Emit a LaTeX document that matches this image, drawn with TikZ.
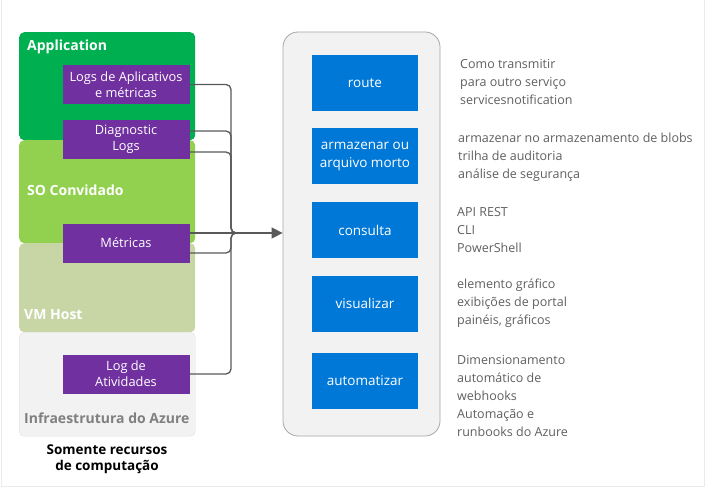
\documentclass[tikz,border=0pt]{standalone}
\usepackage{fontspec}
\setmainfont{Open Sans}
\usetikzlibrary{positioning,arrows.meta}
\definecolor{appgreen}{HTML}{00B050}
\definecolor{osgreen}{HTML}{92D050}
\definecolor{hostgreen}{HTML}{C8D6A5}
\definecolor{infragray}{HTML}{F2F2F2}
\definecolor{logpurple}{HTML}{7030A0}
\definecolor{actblue}{HTML}{0078D7}
\definecolor{linegray}{HTML}{595959}
\definecolor{textgray}{HTML}{5F5F5F}
\tikzset{
  layer/.style={rounded corners=5pt,minimum width=176pt,anchor=north west,inner sep=0pt},
  layertitle/.style={anchor=west,inner sep=0pt,text=white,font=\fontsize{14}{16}\selectfont\bfseries},
  logbox/.style={fill=logpurple,text=white,minimum width=127pt,minimum height=39pt,align=center,inner sep=0pt,font=\fontsize{12.8}{16}\selectfont},
  actbox/.style={fill=actblue,text=white,minimum width=106pt,minimum height=56pt,align=center,inner sep=0pt,font=\fontsize{13.5}{18}\selectfont},
  desc/.style={anchor=west,align=left,inner sep=0pt,text=textgray,font=\fontsize{12.5}{18}\selectfont},
  link/.style={draw=linegray,line width=1.3pt,rounded corners=5pt}
}
\begin{document}
\begin{tikzpicture}[x=1pt,y=-1pt]
\useasboundingbox (0,0) rectangle (706,489);
\draw[draw=black!8] (1,0) -- (1,486) -- (704,486) -- (704,0);
% layers on the left
\node[layer,fill=appgreen,minimum height=108pt] (app) at (19,32) {};
\node[layer,fill=osgreen,minimum height=103pt] (os) at (19,140) {};
\node[layer,fill=hostgreen,minimum height=89pt] (host) at (19,243) {};
\node[layer,fill=infragray,draw=black!12,minimum height=104pt] (infra) at (19,332) {};
\node[layertitle] (apptitle) at (27,47) {Application};
\node[layertitle] (ostitle) at (27,190) {SO Convidado};
\node[layertitle] (hosttitle) at (24,315) {VM Host};
\node[layertitle,text=black!50] (infratitle) at (24,418) {Infraestrutura do Azure};
\node[align=center,inner sep=0pt,font=\fontsize{13.5}{16}\selectfont\bfseries] (caption) at (107,459) {Somente recursos\\de computação};
% log sources
\node[logbox] (applogs) at (126,84.5) {Logs de Aplicativos\\e métricas};
\node[logbox] (diaglogs) at (126,139.5) {Diagnostic\\Logs};
\node[logbox] (metrics) at (126,243) {Métricas};
\node[logbox] (actlogs) at (126,374) {Log de\\Atividades};
% actions
\node[rounded corners=15pt,fill=infragray,draw=black!35,line width=0.8pt,minimum width=157pt,minimum height=404pt] (store) at (361.5,234) {};
\node[actbox] (route) at (365,83) {route};
\node[actbox] (archive) at (365,156.5) {armazenar ou\\arquivo morto};
\node[actbox] (query) at (365,230) {consulta};
\node[actbox] (visual) at (365,303.5) {visualizar};
\node[actbox] (automate) at (365,380.5) {automatizar};
% descriptions
\node[desc] (routetext) at (460,82) {Como transmitir\\para outro serviço\\servicesnotification};
\node[desc] (archivetext) at (458,157) {armazenar no armazenamento de blobs\\trilha de auditoria\\análise de segurança};
\node[desc] (querytext) at (457,230) {API REST\\CLI\\PowerShell};
\node[desc] (visualtext) at (457,303) {elemento gráfico\\exibições de portal\\painéis, gráficos};
\node[desc] (automatetext) at (457,396) {Dimensionamento\\automático de\\webhooks\\Automação e\\runbooks do Azure};
% connectors
\coordinate (hub) at (231,233);
\coordinate (hubout) at (246,233);
\draw[link] (applogs.east) -| (hub) -- (hubout);
\draw[link] ([yshift=8.5pt]diaglogs.east) -| (hub) -- (hubout);
\draw[link] ([yshift=-12.5pt]diaglogs.east) -| (hub) -- (hubout);
\draw[link] ([yshift=10pt]metrics.east) -- (hub);
\draw[link] ([yshift=-10pt]metrics.east) -| (hub) -- (hubout);
\draw[link] (actlogs.east) -| (hub) -- (hubout);
\draw[link,-{Triangle[length=11pt,width=11pt]}] (hub) -- (hub -| store.west);
\end{tikzpicture}
\end{document}
